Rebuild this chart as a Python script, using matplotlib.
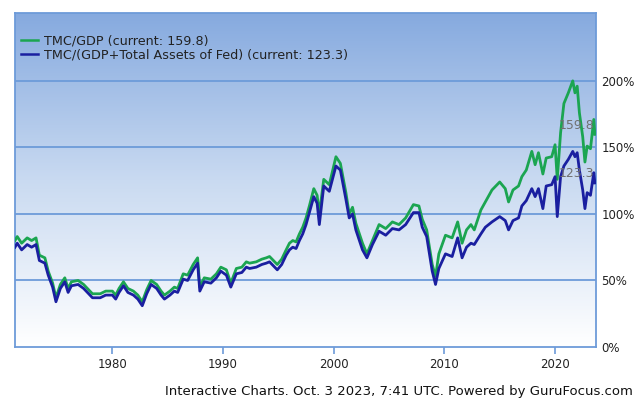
import numpy as np
import matplotlib.pyplot as plt
from matplotlib.colors import LinearSegmentedColormap
from matplotlib.lines import Line2D

# ------------------------------ dados ------------------------------
anos = [1971.2, 1971.4, 1971.8, 1972.3, 1972.7, 1973.1, 1973.4, 1973.9, 1974.2, 1974.6,
        1974.9, 1975.3, 1975.7, 1976.0, 1976.3, 1976.9, 1977.4, 1978.2, 1978.9, 1979.4,
        1980.0, 1980.3, 1980.6, 1981.0, 1981.4, 1981.9, 1982.3, 1982.7, 1983.1, 1983.5,
        1984.0, 1984.4, 1984.7, 1985.2, 1985.6, 1985.9, 1986.4, 1986.8, 1987.3, 1987.7,
        1987.9, 1988.3, 1988.9, 1989.4, 1989.8, 1990.3, 1990.7, 1991.2, 1991.7, 1992.1,
        1992.4, 1993.0, 1993.5, 1993.9, 1994.2, 1994.9, 1995.3, 1995.7, 1996.0, 1996.3,
        1996.6, 1996.9, 1997.2, 1997.5, 1997.8, 1998.2, 1998.5, 1998.7, 1999.1, 1999.6,
        2000.2, 2000.6, 2001.1, 2001.4, 2001.7, 2002.0, 2002.6, 2003.0, 2003.5, 2004.1,
        2004.7, 2005.3, 2005.9, 2006.5, 2007.2, 2007.7, 2008.0, 2008.4, 2008.9, 2009.2,
        2009.5, 2010.1, 2010.7, 2011.2, 2011.6, 2012.0, 2012.4, 2012.7, 2013.3, 2013.7,
        2014.3, 2015.0, 2015.5, 2015.8, 2016.2, 2016.7, 2017.0, 2017.4, 2017.9, 2018.2,
        2018.5, 2018.9, 2019.2, 2019.7, 2020.0, 2020.2, 2020.5, 2020.8, 2021.2, 2021.6,
        2021.8, 2022.0, 2022.2, 2022.5, 2022.7, 2022.9, 2023.2, 2023.5, 2023.6]

tmc_gdp = [80, 83, 78, 82, 80, 82, 69, 67, 57, 48,
           37, 47, 52, 44, 49, 50, 47, 40, 40, 42,
           42, 39, 44, 49, 44, 42, 39, 34, 43, 50,
           47, 42, 39, 42, 45, 44, 55, 54, 62, 67,
           45, 52, 51, 55, 60, 58, 48, 59, 60, 64,
           63, 64, 66, 67, 68, 62, 66, 73, 78, 80,
           79, 85, 90, 97, 106, 119, 114, 100, 126, 122,
           143, 138, 116, 100, 105, 93, 78, 70, 80, 92,
           89, 94, 92, 97, 107, 106, 96, 88, 62, 53,
           70, 84, 82, 94, 78, 88, 92, 88, 103, 109,
           118, 124, 119, 109, 118, 121, 128, 133, 147, 137,
           146, 130, 142, 143, 152, 126, 161, 183, 191, 200,
           191, 196, 176, 158, 139, 151, 149, 171, 159.8]

tmc_gdp_fed = [75, 78, 73, 77, 75, 77, 65, 63, 54, 45,
               34, 44, 49, 41, 46, 47, 44, 37, 37, 39,
               39, 36, 41, 46, 41, 39, 36, 31, 40, 47,
               44, 39, 36, 39, 42, 41, 51, 50, 58, 63,
               42, 49, 48, 52, 57, 54, 45, 55, 56, 60,
               59, 60, 62, 63, 64, 58, 62, 69, 73, 75,
               74, 80, 85, 92, 101, 113, 108, 92, 121, 117,
               136, 133, 111, 97, 100, 88, 73, 67, 77, 87,
               84, 89, 88, 92, 101, 101, 90, 83, 57, 47,
               59, 70, 68, 82, 67, 75, 78, 77, 85, 90,
               94, 98, 95, 88, 95, 97, 106, 110, 119, 113,
               119, 104, 121, 122, 128, 98, 128, 136, 141, 147,
               143, 146, 133, 118, 104, 116, 114, 131, 123.3]

anos_ticks = [1980, 1990, 2000, 2010, 2020]
pct_ticks = [0, 50, 100, 150, 200]

verde = '#1ba551'
azul = '#1a1fa0'
azul_borda = '#6d9bd9'

# ------------------------------ figura ------------------------------
fig = plt.figure(figsize=(6.4, 4.04), dpi=100)
ax = fig.add_axes([15/640, 1 - 347/404, (596 - 15)/640, (347 - 13)/404])

# fundo em degrade
cmap = LinearSegmentedColormap.from_list('fundo', ['#ffffff', '#c9daf1', '#86aadf'])
grad = np.linspace(0, 1, 256).reshape(-1, 1)
ax.imshow(grad, aspect='auto', cmap=cmap, origin='lower',
          extent=[0, 1, 0, 1], transform=ax.transAxes, zorder=0)

ax.plot(anos, tmc_gdp, color=verde, lw=2.0, zorder=3,
        label='TMC/GDP (current: 159.8)')
ax.plot(anos, tmc_gdp_fed, color=azul, lw=2.0, zorder=4,
        label='TMC/(GDP+Total Assets of Fed) (current: 123.3)')

ax.set_xlim(1971.2, 2023.7)
ax.set_ylim(0, 251)

for v in pct_ticks[1:]:
    ax.axhline(v, color=azul_borda, lw=1.3, zorder=2)

ax.yaxis.tick_right()
ax.set_yticks(pct_ticks)
ax.set_yticklabels([f'{v}%' for v in pct_ticks])
ax.tick_params(axis='y', length=0, pad=4, labelsize=8.5, labelcolor='#222222')

ax.set_xticks(anos_ticks)
ax.set_xticklabels([str(a) for a in anos_ticks])
ax.tick_params(axis='x', direction='out', length=5, width=1.2, color=azul_borda,
               pad=3, labelsize=8.5, labelcolor='#222222')

for s in ax.spines.values():
    s.set_color(azul_borda)
    s.set_linewidth(1.3)

# valores atuais
ax.text(2023.55, tmc_gdp[-1] + 2, '159.8', ha='right', va='bottom',
        fontsize=9, color='#707070', zorder=5)
ax.text(2023.55, tmc_gdp_fed[-1] + 2, '123.3', ha='right', va='bottom',
        fontsize=9, color='#707070', zorder=5)

handles = [Line2D([], [], color=verde, lw=1.8), Line2D([], [], color=azul, lw=1.8)]
ax.legend(handles, [l.get_label() for l in ax.get_lines()[:2]],
          loc='upper left', bbox_to_anchor=(0.0, 0.955), frameon=False,
          fontsize=9.2, handlelength=1.3, handletextpad=0.5, labelspacing=0.1,
          borderaxespad=0.1, labelcolor='#222222')

fig.text(633/640, 1 - 392/404, 'Interactive Charts. Oct. 3 2023, 7:41 UTC. Powered by GuruFocus.com',
         ha='right', va='center', fontsize=9.5, color='#111111')

fig.savefig('out.png', dpi=100)
